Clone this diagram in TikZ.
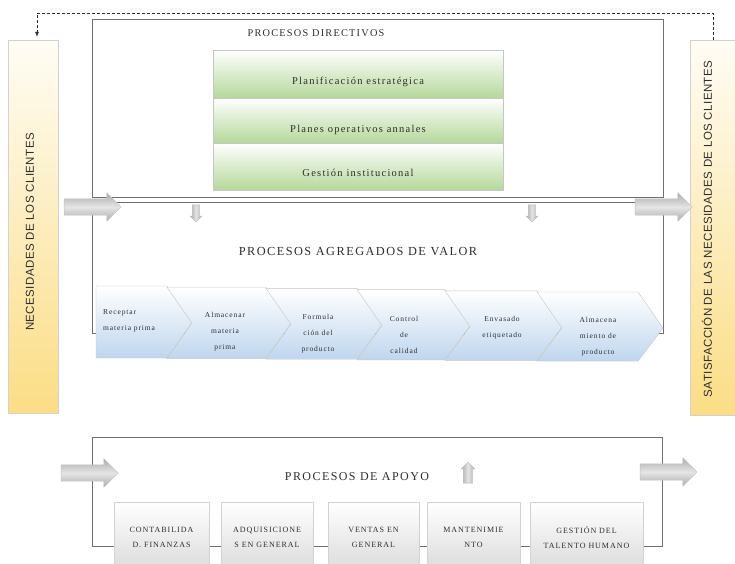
\documentclass[tikz,border=0pt]{standalone}
\usepackage{fontspec}
\setmainfont{Liberation Serif}
\newfontfamily\barfont[LetterSpace=4]{Liberation Sans}
\newfontfamily\spacedfont[LetterSpace=12]{Liberation Serif}
\usetikzlibrary{shapes.arrows}
\usetikzlibrary{arrows.meta}

\definecolor{barYellow}{HTML}{FBDD85}
\definecolor{leafGreen}{HTML}{B5D89B}
\definecolor{paleBlue}{HTML}{BFD6EE}
\definecolor{frameGray}{HTML}{707070}
\definecolor{inkGray}{HTML}{2E2E2E}

\tikzset{
  frame/.style={draw=frameGray, line width=0.9pt, inner sep=0pt},
  sidebar/.style={draw=gray!35, top color=barYellow!8, bottom color=barYellow, inner sep=0pt},
  bartext/.style={rotate=90, text=inkGray, font=\barfont\fontsize{11.5}{13}\selectfont},
  title/.style={text=inkGray, inner sep=0pt},
  planbox/.style={draw=gray!45, top color=white, bottom color=leafGreen},
  plantext/.style={text=inkGray, font=\spacedfont\fontsize{10.5}{12}\selectfont, inner sep=0pt},
  chevron/.style={draw=gray!45, top color=white, bottom color=paleBlue},
  chevtext/.style={text=inkGray, align=center, font=\spacedfont\fontsize{7.5}{16}\selectfont, inner sep=0pt},
  supbox/.style={draw=gray!35, top color=white, bottom color=gray!30, inner sep=0pt, minimum height=73pt},
  suptext/.style={text=inkGray, align=center, font=\spacedfont\fontsize{8}{15}\selectfont, inner sep=0pt},
  bigarrow/.style={single arrow, single arrow head extend=6pt, inner sep=8pt, minimum height=57pt,
    draw=gray!50, top color=gray!65, bottom color=gray!65, middle color=gray!20},
  smallarrow/.style={single arrow, single arrow head extend=2pt, inner sep=3.5pt, minimum height=17pt,
    shape border rotate=270, draw=gray!55, left color=gray!65, right color=gray!65, middle color=gray!20},
}

\begin{document}
\begin{tikzpicture}[x=1pt, y=-1pt]
  \clip (0,0) rectangle (735,563);
  \fill[white] (0,0) rectangle (735,563);

  % clientes
  \node[sidebar, minimum width=50pt, minimum height=373pt] (lbar) at (33,226.5) {};
  \node[bartext] (lbartext) at (30,232) {NECESIDADES DE LOS CLIENTES};
  \node[sidebar, minimum width=46pt, minimum height=375pt] (rbar) at (713,227.5) {};
  \node[bartext] (rbartext) at (707,229) {SATISFACCIÓN DE LAS NECESIDADES DE LOS CLIENTES};
  \coordinate (loopL) at (37,13);
  \draw[densely dashed, line width=0.6pt, draw=inkGray, -{Latex[length=5pt,width=4pt]}, shorten >=3pt]
    (rbar.north) |- (loopL) -- ([xshift=4pt]lbar.north);

  % directivos
  \node[frame, minimum width=571pt, minimum height=178pt] (dirbox) at (377.5,108) {};
  \node[title, font=\spacedfont\fontsize{10.3}{12}\selectfont] (dirtitle) at (316,33) {PROCESOS DIRECTIVOS};
  \draw[planbox] (213,50) rectangle (503,98);
  \draw[planbox] (213,98) rectangle (503,143);
  \draw[planbox] (213,143) rectangle (503,190);
  \node[plantext] (plan1) at (358,82) {Planificación estratégica};
  \node[plantext] (plan2) at (358,130) {Planes operativos annales};
  \node[plantext] (plan3) at (358,173) {Gestión institucional};

  % valor
  \node[frame, minimum width=571pt, minimum height=131pt] (valbox) at (377.5,267.5) {};
  \node[title, font=\spacedfont\fontsize{12.3}{14}\selectfont] (valtitle) at (358,252) {PROCESOS AGREGADOS DE VALOR};
  \draw[chevron] (96,286) -- (167,286) -- (192,322) -- (167,358) -- (96,358) -- cycle;
  \foreach \l/\r [count=\k] in {167/266, 266/357, 357/445, 445/537, 537/638}
    \draw[chevron] (\l,286+1.2*\k) -- (\r,286+1.2*\k) -- (\r+25,322+1.2*\k) -- (\r,358+0.6*\k)
      -- (\l,358+0.6*\k) -- (\l+25,322+1.2*\k) -- cycle;
  \node[chevtext, align=left, anchor=west] (step1) at (103,321) {Receptar\\materia prima};
  \node[chevtext] (step2) at (225,332) {Almacenar\\materia\\prima};
  \node[chevtext] (step3) at (318,334) {Formula\\ción del\\producto};
  \node[chevtext] (step4) at (404,335) {Control\\de\\calidad};
  \node[chevtext] (step5) at (502,328) {Envasado\\etiquetado};
  \node[chevtext] (step6) at (598,337) {Almacena\\miento de\\producto};

  \node[bigarrow] (valin) at (88.5,207) {};
  \node[bigarrow] (valout) at (659.5,207) {};
  \node[smallarrow] (down1) at (196,211.5) {};
  \node[smallarrow] (down2) at (532,211.5) {};

  % apoyo
  \node[frame, minimum width=570pt, minimum height=109pt] (supframe) at (377,491.5) {};
  \node[title, font=\spacedfont\fontsize{12}{14}\selectfont] (suptitle) at (357,477) {PROCESOS DE APOYO};
  \foreach \c/\w/\t [count=\k] in {161.5/95/{CONTABILIDA\\D. FINANZAS}, 267/92/{ADQUISICIONE\\S EN GENERAL},
      373.5/91/{VENTAS EN\\GENERAL}, 473.5/93/{MANTENIMIE\\NTO}, 586.5/113/{GESTIÓN DEL\\TALENTO HUMANO}} {
    \node[supbox, minimum width=\w] (sup\k) at (\c,538.5) {};
    \node[suptext] (suptext\k) at (\c,537.5) {\t};
  }
  \node[bigarrow] (supin) at (85.5,473) {};
  \node[bigarrow] (supout) at (664.5,472) {};
  \node[smallarrow, shape border rotate=90, inner sep=4.5pt, minimum height=21pt, single arrow head extend=2pt]
    (supup) at (468,475) {};
\end{tikzpicture}
\end{document}
